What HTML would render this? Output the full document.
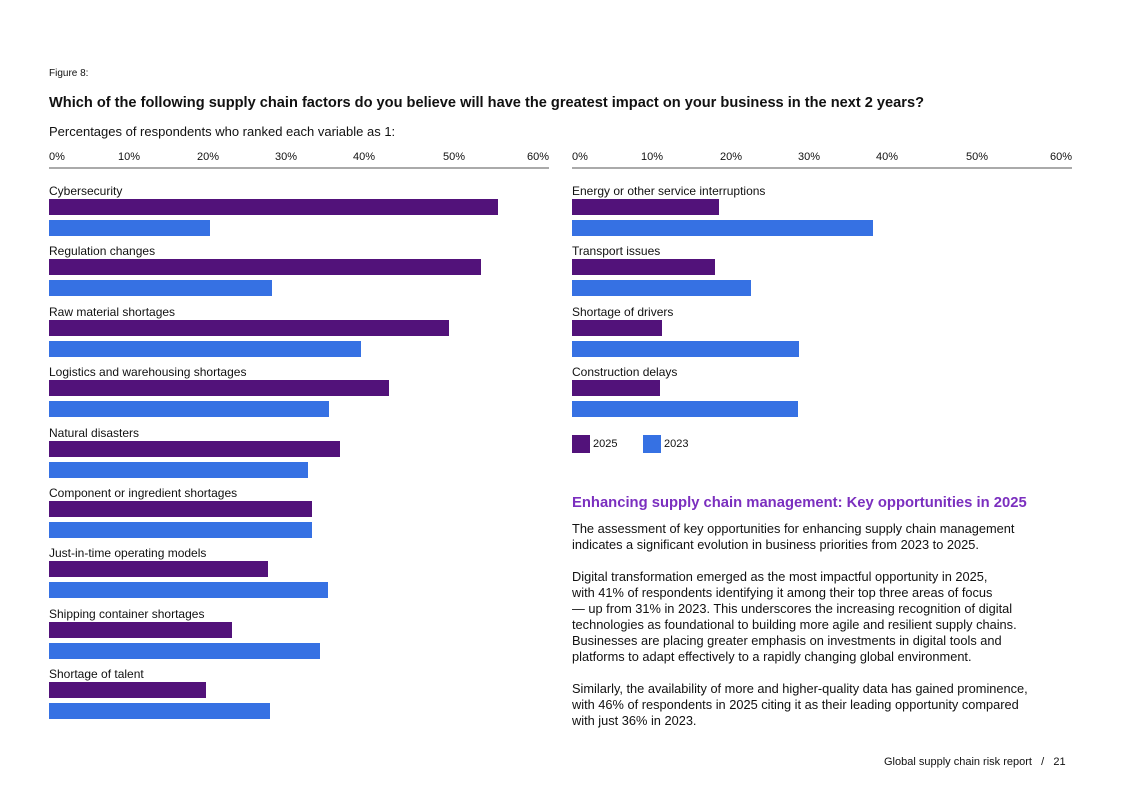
<!DOCTYPE html>
<html><head><meta charset="utf-8"><style>
body{margin:0;width:1121px;height:793px;background:#fff;font-family:"Liberation Sans",sans-serif;color:#111;position:relative;overflow:hidden}
.a{position:absolute;white-space:nowrap}
.tick{position:absolute;top:151px;font-size:11px}
.lab{position:absolute;font-size:12px}
.bar{position:absolute;height:16px}
p{position:absolute;left:572px;margin:0;font-size:12.8px;line-height:16px;white-space:nowrap}
</style></head><body>
<div class="a" style="left:49px;top:68px;font-size:10px">Figure 8:</div>
<div class="a" style="left:49px;top:95px;font-size:14.6px;font-weight:bold">Which of the following supply chain factors do you believe will have the greatest impact on your business in the next 2 years?</div>
<div class="a" style="left:49px;top:124px;font-size:13px">Percentages of respondents who ranked each variable as 1:</div>
<div id="left"></div>
<div id="right"></div>
<div class="a" style="left:572px;top:435px;font-size:11px;line-height:18px"><span style="display:inline-block;width:18px;height:18px;background:#52127a;vertical-align:top"></span> 2025</div>
<div class="a" style="left:643px;top:435px;font-size:11px;line-height:18px"><span style="display:inline-block;width:18px;height:18px;background:#3671e3;vertical-align:top"></span> 2023</div>
<div class="a" style="left:572px;top:495px;font-size:14.8px;font-weight:bold;color:#7b2fbf">Enhancing supply chain management: Key opportunities in 2025</div>
<p style="top:521px">The assessment of key opportunities for enhancing supply chain management<br>indicates a significant evolution in business priorities from 2023 to 2025.</p>
<p style="top:569px">Digital transformation emerged as the most impactful opportunity in 2025,<br>with 41% of respondents identifying it among their top three areas of focus<br>— up from 31% in 2023. This underscores the increasing recognition of digital<br>technologies as foundational to building more agile and resilient supply chains.<br>Businesses are placing greater emphasis on investments in digital tools and<br>platforms to adapt effectively to a rapidly changing global environment.</p>
<p style="top:681px">Similarly, the availability of more and higher-quality data has gained prominence,<br>with 46% of respondents in 2025 citing it as their leading opportunity compared<br>with just 36% in 2023.</p>
<div class="a" style="left:884px;top:756px;font-size:11px">Global supply chain risk report &nbsp; / &nbsp; 21</div>
<script>
const leftCats=["Cybersecurity","Regulation changes","Raw material shortages","Logistics and warehousing shortages","Natural disasters","Component or ingredient shortages","Just-in-time operating models","Shipping container shortages","Shortage of talent"];
const left2025=[53.9,51.8,48,40.8,34.9,31.6,26.3,22,18.8];
const left2023=[19.3,26.8,37.4,33.6,31.1,31.6,33.5,32.5,26.5];
const rightCats=["Energy or other service interruptions","Transport issues","Shortage of drivers","Construction delays"];
const right2025=[17.6,17.2,10.8,10.6];
const right2023=[36.1,21.5,27.2,27.1];
const tickLabels=["0%","10%","20%","30%","40%","50%","60%"];
const tickOffsets=[0,69,148,226,304,394,478];
function chart(id,x0,cats,a,b){
  const c=document.getElementById(id);
  const sx=v=>v/60*500;
  tickLabels.forEach((t,i)=>{const d=document.createElement('div');d.className='tick';d.style.left=(x0+tickOffsets[i])+'px';d.textContent=t;
  
  
  c.appendChild(d);});
  const ax=document.createElement('div');ax.className='a';ax.style.cssText=`left:${x0}px;top:167px;width:500px;height:2px;background:#aaa`;
  
  
  c.appendChild(ax);
  cats.forEach((n,i)=>{const y=183+i*60.4;
    const l=document.createElement('div');l.className='lab';l.style.left=x0+'px';l.style.top=(y+1)+'px';l.textContent=n;
    
    
    c.appendChild(l);
    const p=document.createElement('div');p.className='bar';p.style.cssText=`left:${x0}px;top:${y+16}px;width:${sx(a[i])}px;background:#52127a`;
    
    
    c.appendChild(p);
    const q=document.createElement('div');q.className='bar';q.style.cssText=`left:${x0}px;top:${y+37}px;width:${sx(b[i])}px;background:#3671e3`;
    
    
    c.appendChild(q);
  });
}
chart('left',49,leftCats,left2025,left2023);
chart('right',572,rightCats,right2025,right2023);
</script>
</body></html>
